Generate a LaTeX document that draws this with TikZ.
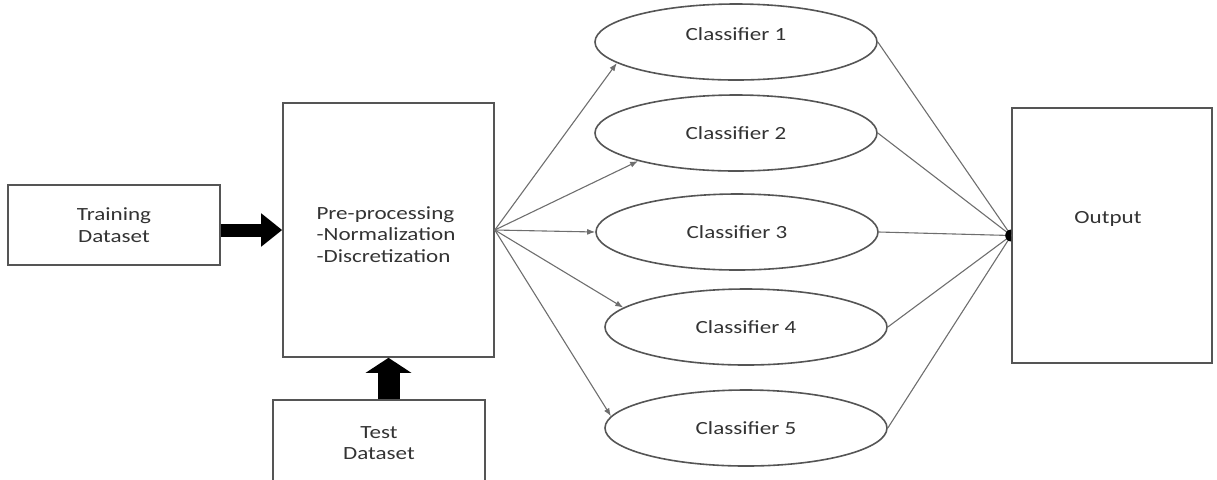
\documentclass[tikz,border=0pt]{standalone}
\usepackage{fontspec}
\setmainfont{Carlito}[FakeStretch=1.24]
\usetikzlibrary{arrows.meta,shapes.geometric}
\definecolor{linegray}{HTML}{555555}
\definecolor{txtgray}{HTML}{333333}

\begin{document}
\begin{tikzpicture}[x=0.5pt,y=-0.5pt,
    font=\fontsize{9.3}{10.75}\selectfont, text=txtgray,
    block/.style={draw=linegray, line width=0.8pt},
    clf/.style={ellipse, draw=linegray, line width=0.8pt, minimum width=141pt, minimum height=38pt, inner sep=0pt},
    toclf/.style={draw=linegray!85, line width=0.55pt, -{Latex[length=4pt,width=3pt]}},
    toout/.style={draw=linegray!85, line width=0.55pt},
    bigarrow/.style={line width=6.5pt, -{Triangle[length=10.5pt,width=16pt]}},
    uparrow/.style={line width=11pt, -{Triangle[length=7.5pt,width=22.5pt]}}
]
    \useasboundingbox (0,0) rectangle (1217,479);
    % input side
    \node[block, minimum width=106pt, minimum height=40pt, align=center] (train) at (114,225) {Training\\Dataset};
    \node[block, minimum width=105.5pt, minimum height=127pt] (pre) at (388.5,230) {};
    \node[align=left] (pretxt) at (386,234.5) {Pre-processing\\-Normalization\\-Discretization};
    \node[block, minimum width=106pt, minimum height=43pt, align=center] (test) at (379,443) {Test\\Dataset};
    \draw[bigarrow] (train.east |- pre.west) -- (pre.west);
    \draw[uparrow] (test.north -| pre.south) -- (pre.south);
    % classifiers
    \node[clf] (c1) at (736,42) {\raisebox{8pt}{Classifier 1}};
    \node[clf] (c2) at (736,133) {Classifier 2};
    \node[clf] (c3) at (737,232) {Classifier 3};
    \node[clf] (c4) at (746,327) {Classifier 4};
    \node[clf] (c5) at (746,428) {Classifier 5};
    % output
    \node[block, minimum width=100pt, minimum height=127.5pt] (out) at (1112,235.5) {};
    \node (outtxt) at (1108,219) {Output};
    \foreach \c/\a in {c1/190,c2/196,c3/180,c4/171,c5/175}
        \draw[toclf] (pre.east) -- (\c.\a);
    \foreach \c in {c1,c2,c3,c4,c5}
        \draw[toout] (\c.east) -- (out.west);
    \fill (out.west) ++(0,3pt) arc[start angle=90, end angle=270, radius=3pt] -- cycle;
\end{tikzpicture}
\end{document}
